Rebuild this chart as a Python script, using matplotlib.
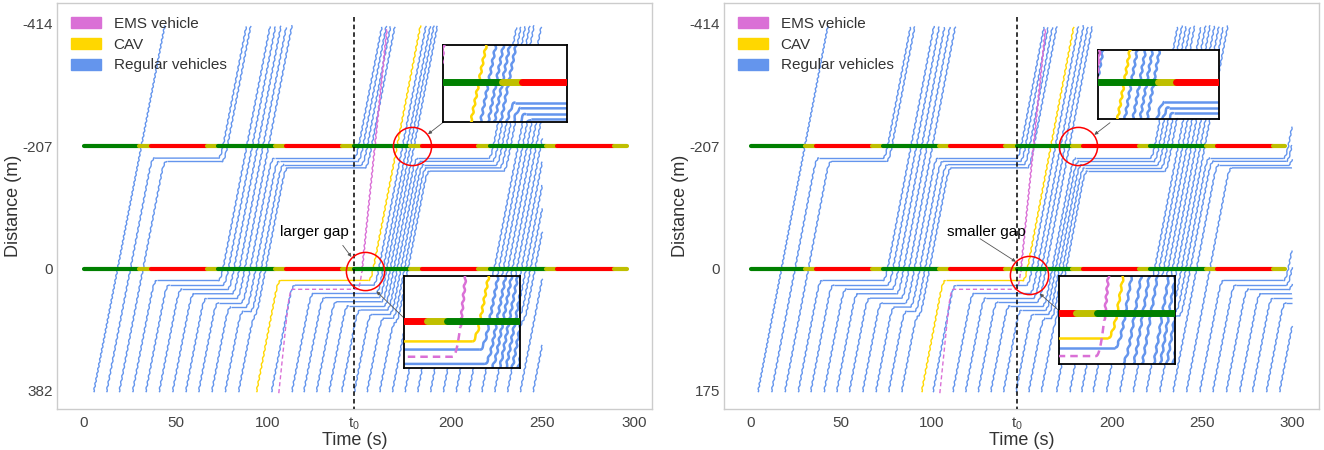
import numpy as np
import matplotlib
matplotlib.use("Agg")
import matplotlib.pyplot as plt
from matplotlib.patches import Patch

plt.rcParams['font.family'] = ['Liberation Sans', 'DejaVu Sans']

nan = np.nan

# signal timing, same at both intersections (s)
sig_start = [0.0, 30.0, 36.4, 67.3, 73.2, 104.5, 110.2, 141.0,
             147.3, 178.0, 184.2, 215.2, 221.3, 252.3, 258.3, 289.3]
sig_end = sig_start[1:] + [296.2]
sig_color = ['green', 'y', 'red', 'y'] * 4
stop_bars = [0, -207]
t0 = 147.3

# road ends (plot units) and speeds
y_in, y_out = 207, -414
v_reg, v_ems = 16.0, 30.0

xtick_pos = [0, 50, 100, t0, 200, 250, 300]
xtick_lab = ['0', '50', '100', r'$\mathregular{t_0}$', '200', '250', '300']
ytick_pos = [-414, -207, 0, 207]
l_ytick_lab = ['-414', '-207', '0', '382']
r_ytick_lab = ['-414', '-207', '0', '175']

# ---- left panel: entry time, kind, stop pos / release time at 1st and 2nd signal
l_entry = [5.3, 12.3, 19.2, 26.5, 33.7, 41.0, 48.3, 55.5, 62.5, 69.7, 77.0, 84.3,
           94.1, 102.3, 106.3, 113.4, 119.9, 126.8, 133.7, 140.6, 147.5, 154.4, 161.3,
           168.2, 175.1, 182.0, 189.0, 196.0, 203.0, 210.0, 217.0, 224.0, 231.0, 238.0, 245.0]
l_kind = 'r' * 12 + 'cre' + 'r' * 8 + 'r' * 12
l_stop0 = [nan, nan, nan, 20, 27.5, 35, 42.5, 50, 57.5, 65, 72.5, 80,
           20, 28, 35, 42, 49, 56, 63, 70, 77, 84, 91,
           20, 27.5, 35, 42.5, 50, 57.5, 65, 72.5, 80, 87.5, 95, nan]
l_go0 = [nan, nan, nan, 74.5, 77, 79.5, 82, 84.5, 87, 89.5, 92, 94,
         156.5, 159, 150.5, 160.5, 162, 163.5, 165, 166.5, 168, 169.5, 171,
         222.5, 224.5, 226.5, 228.5, 230.5, 232.5, 234.5, 236.5, 238.5, 240.5, 242.5, nan]
l_stop1 = [nan, -187, -181.5, nan, nan, nan, nan, nan, -187, -181.5, -176, -170.5,
           nan, nan, nan, nan, nan, nan, -187, -181.5, -176, -170.5, -165,
           nan, nan, nan, nan, nan, nan, nan, nan, nan, nan, nan, nan]
l_go1 = [nan, 74.5, 76.5, nan, nan, nan, nan, nan, 148.5, 150.5, 152.5, 154.5,
         nan, nan, nan, nan, nan, nan, 222, 224, 226, 228, 230,
         nan, nan, nan, nan, nan, nan, nan, nan, nan, nan, nan, nan]
l_tend = 250

# ---- right panel
r_entry = [4.0, 11.5, 18.9, 26.3, 33.2, 40.6, 47.6, 54.6, 62.0, 69.3, 76.4, 83.6,
           94.7, 101.0, 104.8, 112.0, 119.0, 126.0, 133.0, 140.0, 147.0, 154.0, 161.0,
           169.4, 176.8, 183.3, 189.7, 197.1, 204.5, 211.9, 219.2, 226.6, 234.0, 241.4,
           248.8, 256.0, 263.5, 270.9, 278.0, 285.7, 293.0]
r_kind = 'r' * 12 + 'cre' + 'r' * 8 + 'r' * 18
r_stop0 = [nan, nan, nan, 20, 27.5, 35, 42.5, 50, 57.5, 65, 72.5, 80,
           20, 28, 35, 42, 49, 56, 63, 70, 77, 84, 91,
           20, 27.5, 35, 42.5, 50, 57.5, 65, 72.5, 80, 87.5, nan,
           20, 27.5, 35, 42.5, 50, 57.5, nan]
r_go0 = [nan, nan, nan, 74.5, 77, 79.5, 82, 84.5, 87, 89.5, 92, 94,
         152, 154, 148.5, 156, 158, 160, 163, 164.5, 166, 167.5, 169,
         222.5, 224.5, 226.5, 228.5, 230.5, 232.5, 234.5, 236.5, 238.5, 240.5, nan,
         296.5, 298, 299.5, 301, 302.5, 304, nan]
r_stop1 = [nan, -187, -181.5, nan, nan, nan, nan, nan, -187, -181.5, -176, -170.5,
           nan, nan, nan, nan, nan, nan, -187, -181.5, -176, -170.5, -165,
           nan, nan, nan, nan, nan, nan, nan, -187, -181.5, -176, -170.5,
           nan, nan, nan, nan, nan, nan, nan]
r_go1 = [nan, 74.5, 76.5, nan, nan, nan, nan, nan, 148.5, 150.5, 152.5, 154.5,
         nan, nan, nan, nan, nan, nan, 222.5, 224.5, 226.5, 228.5, 230.5,
         nan, nan, nan, nan, nan, nan, nan, 296.5, 298, 299.5, 301,
         nan, nan, nan, nan, nan, nan, nan]
r_tend = 300

colors = {'r': 'cornflowerblue', 'c': 'gold', 'e': 'orchid'}


def trajectory(t_in, v, stops, t_end):
    t, y = t_in, y_in
    kt = [t_in - 6, t_in]
    ky = [y_in + 6 * v, y_in]
    for ys, go in stops:
        if np.isnan(ys):
            continue
        ta = t + (y - ys) / v
        if ta < go:
            kt += [ta, go]
            ky += [ys, ys]
            t, y = go, ys
    t_top = t + (y - y_out) / v
    kt += [t_top, t_top + 6]
    ky += [y_out, y_out - 6 * v]
    tt = np.arange(kt[0], kt[-1], 0.25)
    # rounded corners (accel / decel)
    yy = np.convolve(np.interp(tt, kt, ky), np.ones(12) / 12, mode='same')
    keep = (tt >= t_in) & (tt <= min(t_top, t_end))
    return tt[keep], yy[keep]


def draw_line(ax, t, y, color, lw, sketch, z):
    if len(t) < 2:
        return
    moving = np.abs(np.gradient(y, t)) > 0.5
    cut = np.flatnonzero(moving[1:] != moving[:-1]) + 1
    edges = [0] + list(cut) + [len(t)]
    for a, b in zip(edges[:-1], edges[1:]):
        ln, = ax.plot(t[a:b + 1], y[a:b + 1], color=color, lw=lw, zorder=z,
                      solid_capstyle='butt')
        if moving[a]:
            ln.set_sketch_params(*sketch)


def draw_panel(ax, entry, kind, stop0, go0, stop1, go1, t_end, lw, bar_lw, sketch):
    order = sorted(range(len(entry)), key=lambda i: 'rce'.index(kind[i]))
    for i in order:
        k = kind[i]
        v = v_ems if k == 'e' else v_reg
        t, y = trajectory(entry[i], v, [(stop0[i], go0[i]), (stop1[i], go1[i])], t_end)
        z = 2 if k == 'r' else 3
        if k == 'e':
            c = int(np.argmax(y <= 8))
            ax.plot(t[:c + 1], y[:c + 1], color=colors[k], lw=lw, ls=(0, (3, 2)), zorder=z)
            t, y = t[c:], y[c:]
        draw_line(ax, t, y, colors[k], lw, sketch, z)
    for yb in stop_bars:
        for s, e, c in zip(sig_start, sig_end, sig_color):
            ax.plot([s, e], [yb, yb], color=c, lw=bar_lw, solid_capstyle='round', zorder=4)


W, H = 1324, 450
fig = plt.figure(figsize=(W / 100, H / 100), dpi=100)
ax_l = fig.add_axes([57 / W, 41 / H, 595 / W, 406 / H])
ax_r = fig.add_axes([724 / W, 41 / H, 595 / W, 406 / H])

panels = [
    (ax_l, l_entry, l_kind, l_stop0, l_go0, l_stop1, l_go1, l_tend, l_ytick_lab, (-14.7, 309.9)),
    (ax_r, r_entry, r_kind, r_stop0, r_go0, r_stop1, r_go1, r_tend, r_ytick_lab, (-14.8, 314.9)),
]

for ax, en, kd, s0, g0, s1, g1, te, ylab, xlim in panels:
    draw_panel(ax, en, kd, s0, g0, s1, g1, te, 1.0, 3.0, (0.55, 5, 1))
    ax.vlines(t0, -426, 237.5, colors='black', linestyles=(0, (3, 2)), lw=1.1, zorder=5)
    ax.set_xlim(*xlim)
    ax.set_ylim(237.5, -449.5)
    ax.set_xticks(xtick_pos)
    ax.set_xticklabels(xtick_lab)
    ax.set_yticks(ytick_pos)
    ax.set_yticklabels(ylab)
    ax.tick_params(axis='x', length=0, labelsize=11, colors='#444444', pad=5)
    ax.tick_params(axis='y', length=0, labelsize=11, colors='#444444', pad=3)
    ax.set_xlabel('Time (s)', fontsize=13, color='#333333', labelpad=0)
    ax.set_ylabel('Distance (m)', fontsize=13, color='#333333')
    ax.yaxis.set_label_coords(-0.058, 0.5)
    for sp in ax.spines.values():
        sp.set_color('#cccccc')
        sp.set_linewidth(1)
    handles = [Patch(color='orchid', label='EMS vehicle'),
               Patch(color='gold', label='CAV'),
               Patch(color='cornflowerblue', label='Regular vehicles')]
    ax.legend(handles=handles, loc='upper left', frameon=False, fontsize=11,
              handlelength=2.0, handleheight=0.75, handletextpad=0.8,
              labelspacing=0.45, borderaxespad=0.5, labelcolor='#333333')

# red circles
for ax, pts in [(ax_l, [(153.2, 4), (178.7, -207)]), (ax_r, [(154.2, 10), (181.5, -207)])]:
    for tx, ty in pts:
        ax.plot(tx, ty, 'o', ms=27.5, mfc='none', mec='red', mew=1.1, zorder=6)

# gap labels
arrow_kw = dict(arrowstyle='-|>', color='#555555', lw=0.6, mutation_scale=5,
                shrinkA=0, shrinkB=0)
ax_l.text(106.8, -62.6, 'larger gap', fontsize=11, va='center', ha='left', zorder=7)
ax_l.annotate('', xy=(145.9, -19.8), xytext=(141.2, -39.4), arrowprops=arrow_kw)
ax_r.text(108.5, -62.6, 'smaller gap', fontsize=11, va='center', ha='left', zorder=7)
ax_r.annotate('', xy=(146.9, -11.8), xytext=(127.0, -50.8), arrowprops=arrow_kw)

# connectors from insets to circles
for ax, xy, fxy in [(ax_l, (187.7, -227.6), (442.7, 122.7)),
                    (ax_l, (159.6, 38.4), (404, 318)),
                    (ax_r, (190.4, -226.5), (1110, 122.7)),
                    (ax_r, (160.2, 42.3), (1058.3, 310))]:
    ax.annotate('', xy=xy, xycoords='data', xytext=(fxy[0] / W, 1 - fxy[1] / H),
                textcoords='figure fraction', arrowprops=arrow_kw, annotation_clip=False)

# zoomed insets (pixel boxes: left, top, right, bottom)
insets = [
    ((443, 45, 567, 122), (159.7, 198.2), (-168, -244), panels[0]),
    ((404, 276, 520, 368), (133.6, 170.6), (46, -44), panels[0]),
    ((1098, 50, 1219, 119), (157.2, 199.2), (-170, -239), panels[1]),
    ((1059, 276, 1175, 364), (136.0, 170.8), (41.5, -30.5), panels[1]),
]
for (l, t, r, b), xl, yl, p in insets:
    ins = fig.add_axes([l / W, 1 - b / H, (r - l) / W, (b - t) / H])
    ins.set_facecolor('white')
    draw_panel(ins, p[1], p[2], p[3], p[4], p[5], p[6], p[7], 1.8, 5.0, (0.8, 8, 1))
    ins.set_xlim(*xl)
    ins.set_ylim(*yl)
    ins.set_xticks([])
    ins.set_yticks([])
    for sp in ins.spines.values():
        sp.set_color('black')
        sp.set_linewidth(1.3)

fig.savefig('out.png', dpi=100)
